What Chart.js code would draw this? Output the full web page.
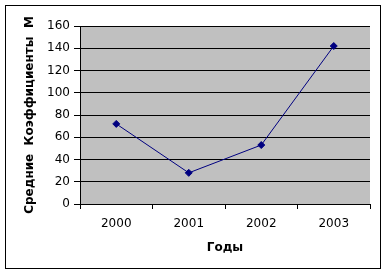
<!DOCTYPE html>
<html>
<head>
<meta charset="utf-8">
<script src="https://cdn.jsdelivr.net/npm/chart.js@4/dist/chart.umd.min.js"></script>
<style>
  body { margin: 0; background: #fff; }
  #wrap { width: 387px; height: 274px; }
</style>
</head>
<body>
<div id="wrap"><canvas id="chart" width="387" height="274"></canvas></div>
<script>
const years = ['2000', '2001', '2002', '2003']
const averages = [72, 28, 53, 142]
const yTicks = [0, 20, 40, 60, 80, 100, 120, 140, 160]

// gray plot area and the outer frame, like the old spreadsheet look
const frame = {
    id: 'frame',
    beforeDraw(chart) {
        const ctx = chart.ctx
        const a = chart.chartArea
        ctx.save()
        ctx.fillStyle = '#fff'
        ctx.fillRect(0, 0, chart.width, chart.height)
        ctx.fillStyle = '#c0c0c0'
        ctx.fillRect(a.left, a.top, a.right - a.left, a.bottom - a.top)
        ctx.strokeStyle = '#000'
        ctx.lineWidth = 1
        ctx.strokeRect(5.5, 5.5, 375, 263)
        ctx.restore()
    }
}

const font = { family: 'DejaVu Sans', size: 12 }

new Chart(document.getElementById('chart'), {
    type: 'line',
    data: {
        labels: years,
        datasets: [{
            data: averages,
            borderColor: '#000080',
            backgroundColor: '#000080',
            borderWidth: 1,
            pointStyle: 'rectRot',
            pointRadius: 3.5,
            tension: 0
        }]
    },
    options: {
        responsive: false,
        animation: false,
        layout: { padding: { left: 19, top: 26, right: 17, bottom: 15 } },
        plugins: { legend: { display: false }, tooltip: { enabled: false } },
        scales: {
            x: {
                offset: true,
                grid: { offset: true, drawOnChartArea: false, color: '#000', tickLength: 5 },
                border: { color: '#000' },
                ticks: { color: '#000', font, padding: 8, maxRotation: 0 },
                title: { display: true, text: 'Годы', color: '#000', font: { family: 'DejaVu Sans', size: 12, weight: 'bold' } },
                afterFit(scale) { scale.height = 55 }
            },
            y: {
                min: 0,
                max: 160,
                afterBuildTicks(scale) { scale.ticks = yTicks.map(v => ({ value: v })) },
                grid: { color: '#000', tickLength: 6 },
                border: { color: '#000' },
                ticks: { color: '#000', font, padding: 4 },
                title: { display: true, text: 'Средние  Коэффициенты  М', color: '#000', font: { family: 'DejaVu Sans', size: 12, weight: 'bold' } },
                afterFit(scale) { scale.width = 61 }
            }
        }
    },
    plugins: [frame]
})
</script>
</body>
</html>
